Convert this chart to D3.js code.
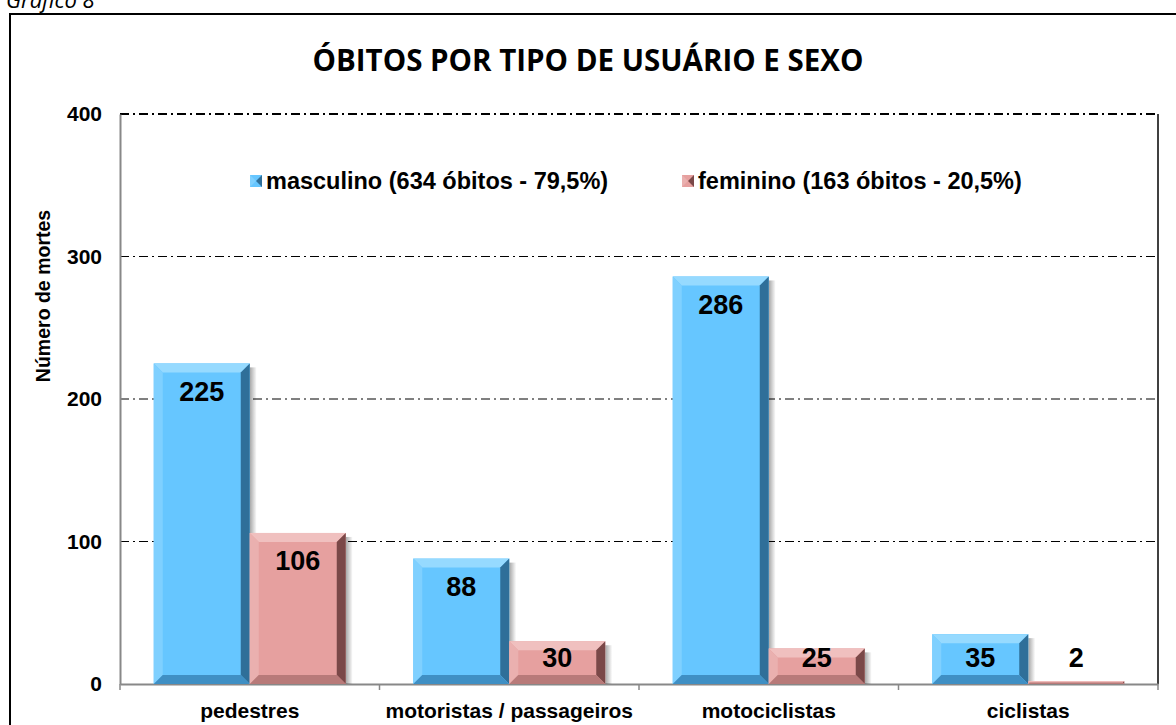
<!DOCTYPE html>
<html><head><meta charset="utf-8">
<script src="https://cdn.jsdelivr.net/npm/d3@7"></script>
<style>body{margin:0;background:#fff}svg{display:block}</style>
</head><body>
<script>
const categories = ["pedestres", "motoristas / passageiros", "motociclistas", "ciclistas"];
const masculino = [225, 88, 286, 35];
const feminino = [106, 30, 25, 2];
const seriesNames = ["masculino (634 óbitos - 79,5%)", "feminino (163 óbitos - 20,5%)"];
const yTicks = [0, 100, 200, 300, 400];
const title = "ÓBITOS POR TIPO DE USUÁRIO E SEXO";
const yTitle = "Número de mortes";
const caption = "Gráfico 8";

const W = 1176, H = 725;
const svg = d3.select("body").append("svg").attr("width", W).attr("height", H);
const L = 120, R = 1158, T = 114, B = 684;
const x = d3.scaleBand().domain(categories).range([L, R]);
const y = d3.scaleLinear().domain([0, 400]).range([B, T]);
const AR = "Liberation Sans, Arial, sans-serif";

// caption (cut off at the top, as in the original)
svg.append("text").attr("x", 6).attr("y", 8).attr("font-family", "Open Sans").attr("font-style", "italic")
  .attr("font-size", 22).text(caption);
// outer frame
svg.append("rect").attr("x", 10).attr("y", 14).attr("width", 1200).attr("height", 760)
  .attr("fill", "none").attr("stroke", "#000").attr("stroke-width", 2);
// title
svg.append("text").attr("x", 588).attr("y", 71).attr("text-anchor", "middle").attr("font-family", "Open Sans")
  .attr("font-weight", "bold").attr("font-size", 29.5).text(title);

// grid
svg.append("g").selectAll("line").data(yTicks.filter(d => d > 0)).join("line")
  .attr("x1", L).attr("x2", R).attr("y1", d => y(d)).attr("y2", d => y(d))
  .attr("stroke", "#000").attr("stroke-width", d => d === 400 ? 2 : 1).attr("stroke-dasharray", "9,4,2,4");
// right edge
svg.append("line").attr("x1", R).attr("x2", R).attr("y1", T).attr("y2", B).attr("stroke", "#000").attr("stroke-width", 1.5);

// y axis
const yAxis = d3.axisLeft(y).tickValues(yTicks).tickSize(0).tickPadding(18);
const gy = svg.append("g").attr("transform", `translate(${L},0)`).call(yAxis);
gy.select(".domain").attr("stroke", "#888").attr("stroke-width", 2);
gy.selectAll("text").attr("font-family", AR).attr("font-weight", "bold").attr("font-size", 21).attr("fill", "#000");

// x axis
const xAxis = d3.axisBottom(x).tickSize(0).tickPadding(19);
const gx = svg.append("g").attr("transform", `translate(0,${B})`).call(xAxis);
gx.select(".domain").attr("stroke", "#888").attr("stroke-width", 2);
gx.selectAll("text").attr("font-family", AR).attr("font-weight", "bold").attr("font-size", 21).attr("fill", "#000");
// boundary ticks
const bounds = categories.map(c => x(c)).concat([R]);
svg.append("g").selectAll("line").data(bounds).join("line")
  .attr("x1", d => d).attr("x2", d => d).attr("y1", B).attr("y2", B + 6).attr("stroke", "#888").attr("stroke-width", 1.5);

svg.append("text").attr("transform", "translate(50,296) rotate(-90)").attr("text-anchor", "middle")
  .attr("font-family", AR).attr("font-weight", "bold").attr("font-size", 19.5).text(yTitle);

// defs: shadow gradient
const defs = svg.append("defs");
const sg = defs.append("linearGradient").attr("id", "shadow").attr("x1", 0).attr("x2", 1);
sg.append("stop").attr("offset", 0).attr("stop-color", "#000").attr("stop-opacity", 0.35);
sg.append("stop").attr("offset", 1).attr("stop-color", "#000").attr("stop-opacity", 0);

const palettes = [
  { face: "#66c6ff", top: "#96daff", left: "#7fd0ff", right: "#2f6f99", bottom: "#3f8fc4" },
  { face: "#e6a09f", top: "#f0c0bf", left: "#eab0af", right: "#7a4848", bottom: "#b87a79" }
];
const bw = 96, gap = (x.bandwidth() - 2 * bw) / 2;
const data = [];
categories.forEach((c, i) => {
  [masculino, feminino].forEach((s, k) => data.push({ c, k, v: s[i] }));
});
const bars = svg.append("g");
data.forEach(d => {
  const x0 = x(d.c) + gap + d.k * bw, x1 = x0 + bw, y0 = y(d.v), y1 = y(0);
  const h = y1 - y0;
  const p = palettes[d.k];
  if (h < 1) return;
  const e = Math.min(9, h / 2);
  const g = bars.append("g");
  g.append("rect").attr("x", x1).attr("y", y0 + 4).attr("width", 7).attr("height", h - 4).attr("fill", "url(#shadow)");
  g.append("rect").attr("x", x0).attr("y", y0).attr("width", bw).attr("height", h).attr("fill", p.face);
  const poly = pts => g.append("polygon").attr("points", pts.map(q => q.join(",")).join(" "));
  poly([[x0, y0], [x1, y0], [x1 - e, y0 + e], [x0 + e, y0 + e]]).attr("fill", p.top);
  poly([[x0, y0], [x0 + e, y0 + e], [x0 + e, y1 - e], [x0, y1]]).attr("fill", p.left);
  poly([[x1, y0], [x1, y1], [x1 - e, y1 - e], [x1 - e, y0 + e]]).attr("fill", p.right);
  poly([[x0, y1], [x0 + e, y1 - e], [x1 - e, y1 - e], [x1, y1]]).attr("fill", p.bottom);
});
// labels
svg.append("g").selectAll("text").data(data).join("text")
  .attr("x", d => x(d.c) + gap + d.k * bw + bw / 2)
  .attr("y", d => Math.min(y(d.v) + 28, 658))
  .attr("dy", "0.35em").attr("text-anchor", "middle")
  .attr("font-family", AR).attr("font-weight", "bold").attr("font-size", 27)
  .text(d => d.v);

// legend
const lg = svg.append("g");
const lx = [250, 682];
seriesNames.forEach((n, k) => {
  const p = palettes[k], cx = lx[k], cy = 181, s = 12;
  const g = lg.append("g");
  g.append("rect").attr("x", cx).attr("y", cy - s / 2).attr("width", s).attr("height", s).attr("fill", p.face);
  g.append("polygon").attr("points", `${cx},${cy - s / 2} ${cx + s / 2},${cy} ${cx},${cy + s / 2}`).attr("fill", p.left);
  g.append("polygon").attr("points", `${cx + s},${cy - s / 2} ${cx + s / 2},${cy} ${cx + s},${cy + s / 2}`).attr("fill", p.right);
  g.append("text").attr("x", cx + s + 4).attr("y", cy).attr("dy", "0.35em")
    .attr("font-family", AR).attr("font-weight", "bold").attr("font-size", 23.5).text(n);
});
</script>
</body></html>
